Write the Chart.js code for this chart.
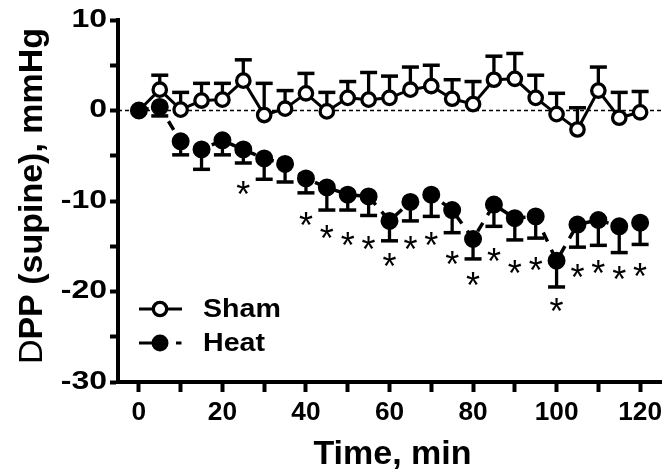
<!DOCTYPE html>
<html><head><meta charset="utf-8">
<script src="https://cdn.jsdelivr.net/npm/chart.js@4/dist/chart.umd.min.js"></script>
<style>html,body{margin:0;padding:0;background:#fff;}#wrap{width:671px;height:475px;}</style>
</head><body><div id="wrap"><canvas id="c" width="671" height="475"></canvas></div>
<script>
// ---- data ----
const times = [0,5,10,15,20,25,30,35,40,45,50,55,60,65,70,75,80,85,90,95,100,105,110,115,120];
const shamMean = [0,2.3,0.1,1.1,1.2,3.3,-0.5,0.2,1.9,-0.1,1.4,1.2,1.4,2.3,2.7,1.3,0.7,3.4,3.5,1.4,-0.4,-2.1,2.2,-0.8,-0.2];
const shamSEM  = [0,1.6,1.9,1.9,1.8,2.3,3.5,2.0,2.2,2.1,1.8,3.0,2.4,2.5,2.3,2.1,2.5,2.6,2.8,2.5,2.3,2.4,2.6,2.8,2.3];
const heatMean = [0,0.4,-3.4,-4.3,-3.3,-4.3,-5.3,-5.9,-7.5,-8.5,-9.3,-9.5,-12.2,-10.1,-9.3,-11.0,-14.2,-10.4,-11.9,-11.7,-16.6,-12.6,-12.1,-12.8,-12.4];
const heatSEM  = [0,1.0,1.5,2.2,1.6,1.5,2.3,2.0,1.6,2.5,1.7,2.1,2.2,2.1,2.4,2.5,2.2,2.4,2.4,2.4,2.9,2.5,2.8,2.9,2.4];
const sigTimes = [25,40,45,50,55,60,65,70,75,80,85,90,95,100,105,110,115,120];
const sigY     = [-8.4,-11.85,-13.3,-14.0,-14.5,-16.3,-14.5,-14.0,-16.1,-18.4,-15.8,-17.1,-16.8,-21.3,-17.5,-17.1,-17.8,-17.4];
const xTicks = [0,10,20,30,40,50,60,70,80,90,100,110,120];
const xTickLabels = ['0','','20','','40','','60','','80','','100','','120'];
const yTicks = [-30,-25,-20,-15,-10,-5,0,5,10];
const yTickLabels = ['-30','','-20','','-10','','0','','10'];
const seriesNames = ['Sham','Heat'];
const xTitle = 'Time, min';
const yTitleSymbol = 'D';
const yTitleRest = 'PP (supine), mmHg';

const FONT = '"Liberation Sans", Arial, sans-serif';

// draw text horizontally stretched (screen space) around its anchor
function stretchedFill(ctx, orig, text, x, y, sx) {
  const m = ctx.getTransform();
  const px = m.a * x + m.c * y + m.e;
  ctx.save();
  const s = new DOMMatrix([sx, 0, 0, 1, px - sx * px, 0]);
  ctx.setTransform(s.multiply(m));
  orig.call(ctx, text, x, y);
  ctx.restore();
}

const labelStretch = {
  id: 'labelStretch',
  beforeDraw(chart) {
    const ctx = chart.ctx;
    const orig = CanvasRenderingContext2D.prototype.fillText;
    ctx.fillText = function (text, x, y) {
      const sx = this.textAlign === 'right' ? 1.28 : 1.05;
      stretchedFill(this, orig, text, x, y, sx);
    };
  },
  beforeDatasetsDraw(chart) {
    delete chart.ctx.fillText;
  }
};

const errorBars = {
  id: 'errorBars',
  beforeDatasetsDraw(chart) {
    const {ctx, scales: {x, y}} = chart;
    ctx.save();
    ctx.strokeStyle = '#000';
    ctx.lineCap = 'butt';
    const cap = 8.5;
    const drawBar = (t, m, e, dir) => {
      if (!e) return;
      const px = x.getPixelForValue(t);
      const y0 = y.getPixelForValue(m);
      const y1 = y.getPixelForValue(m + dir * e);
      ctx.lineWidth = 3.3;
      ctx.beginPath(); ctx.moveTo(px, y0); ctx.lineTo(px, y1); ctx.stroke();
      ctx.lineWidth = 3.5;
      ctx.beginPath(); ctx.moveTo(px - cap, y1); ctx.lineTo(px + cap, y1); ctx.stroke();
    };
    times.forEach((t, i) => {
      drawBar(t, shamMean[i], shamSEM[i], 1);
      drawBar(t, heatMean[i], heatSEM[i], -1);
    });
    ctx.restore();
  }
};

const asterisks = {
  id: 'asterisks',
  afterDatasetsDraw(chart) {
    const {ctx, scales: {x, y}} = chart;
    ctx.save();
    const fs = 36;
    ctx.font = fs + 'px ' + FONT;
    ctx.fillStyle = '#000';
    ctx.textAlign = 'center';
    ctx.textBaseline = 'alphabetic';
    sigTimes.forEach((t, i) => {
      ctx.fillText('*', x.getPixelForValue(t), y.getPixelForValue(sigY[i]) + 0.573 * fs);
    });
    ctx.restore();
  }
};

const legendAndTitles = {
  id: 'legendAndTitles',
  afterDraw(chart) {
    const {ctx, chartArea} = chart;
    const orig = CanvasRenderingContext2D.prototype.fillText;
    ctx.save();
    // legend
    const rows = [{name: seriesNames[0], y: 309}, {name: seriesNames[1], y: 343}];
    rows.forEach((r, i) => {
      ctx.strokeStyle = '#000';
      ctx.lineWidth = 3;
      ctx.beginPath();
      if (i === 0) { ctx.moveTo(139, r.y); ctx.lineTo(182, r.y); }
      else { ctx.moveTo(139, r.y); ctx.lineTo(160, r.y); ctx.moveTo(176, r.y); ctx.lineTo(181.5, r.y); }
      ctx.stroke();
      ctx.beginPath();
      if (i === 0) { ctx.arc(160, r.y, 6.7, 0, Math.PI * 2); ctx.fillStyle = '#fff'; ctx.fill(); ctx.lineWidth = 3.3; ctx.stroke(); }
      else { ctx.arc(160, r.y, 8.5, 0, Math.PI * 2); ctx.fillStyle = '#000'; ctx.fill(); }
      ctx.fillStyle = '#000';
      ctx.font = 'bold 26px ' + FONT;
      ctx.textAlign = 'left';
      ctx.textBaseline = 'middle';
      stretchedFill(ctx, orig, r.name, 203, r.y + 1, 1.1);
    });
    // x title
    ctx.font = 'bold 34px ' + FONT;
    ctx.textAlign = 'center';
    ctx.textBaseline = 'alphabetic';
    ctx.fillText(xTitle, (chartArea.left + chartArea.right) / 2 + 3, 464);
    // y title (rotated)
    ctx.translate(42, 196);
    ctx.rotate(-Math.PI / 2);
    ctx.textAlign = 'left';
    ctx.font = '34px ' + FONT;
    const w1 = ctx.measureText(yTitleSymbol).width;
    ctx.font = 'bold 34px ' + FONT;
    const w2 = ctx.measureText(yTitleRest).width;
    const start = -(w1 + w2) / 2;
    ctx.font = '34px ' + FONT;
    ctx.fillText(yTitleSymbol, start, 0);
    ctx.font = 'bold 34px ' + FONT;
    ctx.fillText(yTitleRest, start + w1, 0);
    ctx.restore();
  }
};

const toPts = arr => times.map((t, i) => ({x: t, y: arr[i]}));

new Chart(document.getElementById('c'), {
  type: 'line',
  data: {
    datasets: [
      {label: seriesNames[1], data: toPts(heatMean), borderColor: '#000', borderWidth: 3.5, borderDash: [10, 9],
       pointRadius: 8, pointBorderWidth: 2, pointBackgroundColor: '#000', pointBorderColor: '#000', tension: 0},
      {label: seriesNames[0], data: toPts(shamMean), borderColor: '#000', borderWidth: 3,
       pointRadius: 6.7, pointBorderWidth: 3.3, pointBackgroundColor: '#fff', pointBorderColor: '#000', tension: 0},
      {label: 'zero', data: [{x: -5, y: 0}, {x: 125, y: 0}], borderColor: '#000', borderWidth: 1.5, borderDash: [4, 3], pointRadius: 0}
    ]
  },
  options: {
    responsive: false,
    animation: false,
    events: [],
    layout: {padding: {left: 0, right: 8, top: 20, bottom: 0}},
    plugins: {legend: {display: false}, tooltip: {enabled: false}},
    scales: {
      x: {
        type: 'linear', min: -5, max: 125,
        afterBuildTicks: s => { s.ticks = xTicks.map(v => ({value: v})); },
        afterFit: s => { s.height = 93; },
        ticks: {autoSkip: false, maxRotation: 0, padding: 6, color: '#000',
          font: {family: FONT, weight: 'bold', size: 25},
          callback: (v) => { const k = xTicks.indexOf(v); return k >= 0 ? xTickLabels[k] : ''; }},
        grid: {drawOnChartArea: false, tickLength: 10, tickWidth: 4, tickColor: '#000'},
        border: {width: 4, color: '#000'}
      },
      y: {
        type: 'linear', min: -30, max: 10,
        afterBuildTicks: s => { s.ticks = yTicks.map(v => ({value: v})); },
        afterFit: s => { s.width = 118; },
        ticks: {autoSkip: false, padding: 3, color: '#000',
          font: {family: FONT, weight: 'bold', size: 25},
          callback: (v) => { const k = yTicks.indexOf(v); return k >= 0 ? yTickLabels[k] : ''; }},
        grid: {drawOnChartArea: false, tickLength: 8, tickWidth: 4, tickColor: '#000'},
        border: {width: 4, color: '#000'}
      }
    }
  },
  plugins: [labelStretch, errorBars, asterisks, legendAndTitles]
});
</script>
</body></html>
